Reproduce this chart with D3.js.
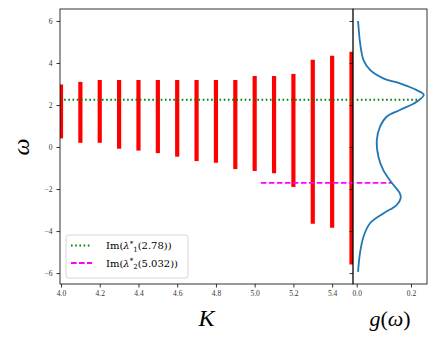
<!DOCTYPE html>
<html>
<head>
<meta charset="utf-8">
<script src="https://cdn.jsdelivr.net/npm/d3@7"></script>
<style>
  body { margin: 0; background: #fff; }
  text { font-family: "Liberation Serif", serif; fill: #000; }
</style>
</head>
<body>
<div id="chart"></div>
<script>
// spread of Im(lambda) against coupling K
var K = [4.0, 4.1, 4.2, 4.3, 4.4, 4.5, 4.6, 4.7, 4.8, 4.9, 5.0, 5.1, 5.2, 5.3, 5.4, 5.5];
var barTop = [2.98, 3.10, 3.19, 3.19, 3.19, 3.19, 3.19, 3.19, 3.19, 3.19, 3.38, 3.38, 3.48, 4.16, 4.35, 4.54];
var barBottom = [0.41, 0.20, 0.20, -0.08, -0.17, -0.29, -0.46, -0.67, -0.75, -1.05, -1.14, -1.25, -1.90, -3.65, -3.84, -5.59];

// frequency density g(omega)
var omega = [6.0, 5.0, 4.5, 4.14, 3.67, 3.27, 3.03, 2.71, 2.48, 2.16, 1.76, 1.44, 0.97, 0.33, -0.46, -1.1, -1.7, -2.21, -2.44, -2.76, -3.16, -3.63, -4.27, -5.06, -5.94];
var gOmega = [0.005, 0.012, 0.018, 0.025, 0.049, 0.098, 0.159, 0.221, 0.247, 0.221, 0.159, 0.110, 0.086, 0.074, 0.080, 0.098, 0.129, 0.159, 0.162, 0.147, 0.098, 0.049, 0.025, 0.012, 0.005];

// critical points
var crit1 = { K: 2.78, im: 2.25, g: 0.233 };
var crit2 = { K: 5.032, im: -1.71, g: 0.129 };

var xTicks = [4.0, 4.2, 4.4, 4.6, 4.8, 5.0, 5.2, 5.4];
var yTicks = [-6, -4, -2, 0, 2, 4, 6];
var gTicks = [0.0, 0.2];

var W = 436, H = 342;
var main = { left: 60, right: 353, top: 9, bottom: 284 };
var side = { left: 353, right: 427 };

var x = d3.scaleLinear().domain([3.9948, 5.5077]).range([main.left, main.right]);
var y = d3.scaleLinear().domain([-6.52, 6.57]).range([main.bottom, main.top]);
var gx = d3.scaleLinear().domain([-0.0136, 0.2589]).range([side.left, side.right]);

var svg = d3.select("#chart").append("svg")
    .attr("width", W)
    .attr("height", H);

svg.append("defs").append("clipPath").attr("id", "clipMain")
    .append("rect")
    .attr("x", main.left).attr("y", main.top)
    .attr("width", main.right - main.left).attr("height", main.bottom - main.top);

var plot = svg.append("g").attr("clip-path", "url(#clipMain)");

// red bars
plot.selectAll("line.bar")
    .data(K)
    .enter().append("line")
    .attr("class", "bar")
    .attr("x1", function(d) { return x(d); })
    .attr("x2", function(d) { return x(d); })
    .attr("y1", function(d, i) { return y(barTop[i]); })
    .attr("y2", function(d, i) { return y(barBottom[i]); })
    .style("stroke", "red")
    .style("stroke-width", 4.2);

plot.append("line")
    .attr("x1", x(crit1.K)).attr("x2", main.right)
    .attr("y1", y(crit1.im)).attr("y2", y(crit1.im))
    .style("stroke", "green").style("stroke-width", 1.8)
    .style("stroke-dasharray", "1.6,2.6");

plot.append("line")
    .attr("x1", x(crit2.K)).attr("x2", main.right)
    .attr("y1", y(crit2.im)).attr("y2", y(crit2.im))
    .style("stroke", "magenta").style("stroke-width", 1.7)
    .style("stroke-dasharray", "5.6,2.4");

// side panel
var sideG = svg.append("g");

sideG.append("line")
    .attr("x1", gx(0)).attr("x2", gx(crit1.g))
    .attr("y1", y(crit1.im)).attr("y2", y(crit1.im))
    .style("stroke", "green").style("stroke-width", 1.8)
    .style("stroke-dasharray", "1.6,2.6");

sideG.append("line")
    .attr("x1", gx(0)).attr("x2", gx(crit2.g))
    .attr("y1", y(crit2.im)).attr("y2", y(crit2.im))
    .style("stroke", "magenta").style("stroke-width", 1.7)
    .style("stroke-dasharray", "5.6,2.4");

var line = d3.line()
    .x(function(d, i) { return gx(gOmega[i]); })
    .y(function(d) { return y(d); })
    .curve(d3.curveCatmullRom.alpha(0.5));

sideG.append("path")
    .datum(omega)
    .attr("d", line)
    .style("fill", "none")
    .style("stroke", "#1f77b4")
    .style("stroke-width", 1.8);

// axes
var xAxis = d3.axisBottom(x).tickValues(xTicks).tickSize(3.5).tickPadding(3)
    .tickFormat(d3.format(".1f"));
var yAxis = d3.axisLeft(y).tickValues(yTicks).tickSize(3.5).tickPadding(4)
    .tickFormat(function(d) { return d < 0 ? "\u2212" + Math.abs(d) : d; });
var gAxis = d3.axisBottom(gx).tickValues(gTicks).tickSize(3.5).tickPadding(3)
    .tickFormat(d3.format(".1f"));
var ySideAxis = d3.axisLeft(y).tickValues(yTicks).tickSize(3.5).tickFormat("");

function styleAxis(g) {
    g.select(".domain").remove();
    g.selectAll(".tick line").style("stroke", "#000").style("stroke-width", 0.8);
    g.selectAll(".tick text").style("font-family", "Liberation Serif, serif").style("font-size", "7.5px").style("fill", "#333");
}

svg.append("g").attr("transform", "translate(0," + main.bottom + ")").call(xAxis).call(styleAxis);
svg.append("g").attr("transform", "translate(" + main.left + ",0)").call(yAxis).call(styleAxis);
svg.append("g").attr("transform", "translate(0," + main.bottom + ")").call(gAxis).call(styleAxis);
svg.append("g").attr("transform", "translate(" + side.left + ",0)").call(ySideAxis).call(styleAxis);

// frames
svg.append("rect")
    .attr("x", main.left).attr("y", main.top)
    .attr("width", main.right - main.left).attr("height", main.bottom - main.top)
    .style("fill", "none").style("stroke", "#000").style("stroke-width", 0.8);
svg.append("rect")
    .attr("x", side.left).attr("y", main.top)
    .attr("width", side.right - side.left).attr("height", main.bottom - main.top)
    .style("fill", "none").style("stroke", "#000").style("stroke-width", 0.8);

// axis labels
svg.append("text")
    .attr("x", (main.left + main.right) / 2).attr("y", 326)
    .attr("text-anchor", "middle")
    .style("font-size", "24px").style("font-style", "italic")
    .text("K");

svg.append("text")
    .attr("transform", "translate(29,147) rotate(-90)")
    .attr("text-anchor", "middle")
    .style("font-size", "24px").style("font-style", "italic")
    .text("\u03c9");

var gl = svg.append("text")
    .attr("x", (side.left + side.right) / 2).attr("y", 326)
    .attr("text-anchor", "middle")
    .style("font-size", "22px");
gl.append("tspan").style("font-style", "italic").text("g");
gl.append("tspan").text("(");
gl.append("tspan").style("font-style", "italic").text("\u03c9");
gl.append("tspan").text(")");

// legend
var legend = svg.append("g");
legend.append("rect")
    .attr("x", 66).attr("y", 235)
    .attr("width", 122).attr("height", 43)
    .attr("rx", 2.5)
    .style("fill", "#fff").style("fill-opacity", 0.8)
    .style("stroke", "#ccc").style("stroke-width", 0.8);

var entries = [
    { color: "green", dash: "1.6,2.6", idx: "1", val: "(2.78))" },
    { color: "magenta", dash: "5.6,2.4", idx: "2", val: "(5.032))" }
];

entries.forEach(function(e, i) {
    var cy = 245.5 + i * 17.5;
    legend.append("line")
        .attr("x1", 71).attr("x2", 92)
        .attr("y1", cy).attr("y2", cy)
        .style("stroke", e.color).style("stroke-width", 1.8)
        .style("stroke-dasharray", e.dash);
    var t = legend.append("text")
        .attr("x", 106).attr("y", cy + 3.5)
        .style("font-family", "DejaVu Serif, serif")
        .style("font-size", "10px");
    t.append("tspan").text("Im(");
    t.append("tspan").style("font-style", "italic").text("\u03bb");
    t.append("tspan").attr("dy", -3.5).style("font-size", "7px").text("*");
    t.append("tspan").attr("dy", 6).style("font-size", "7px").text(e.idx);
    t.append("tspan").attr("dy", -2.5).text(e.val);
});
</script>
</body>
</html>
